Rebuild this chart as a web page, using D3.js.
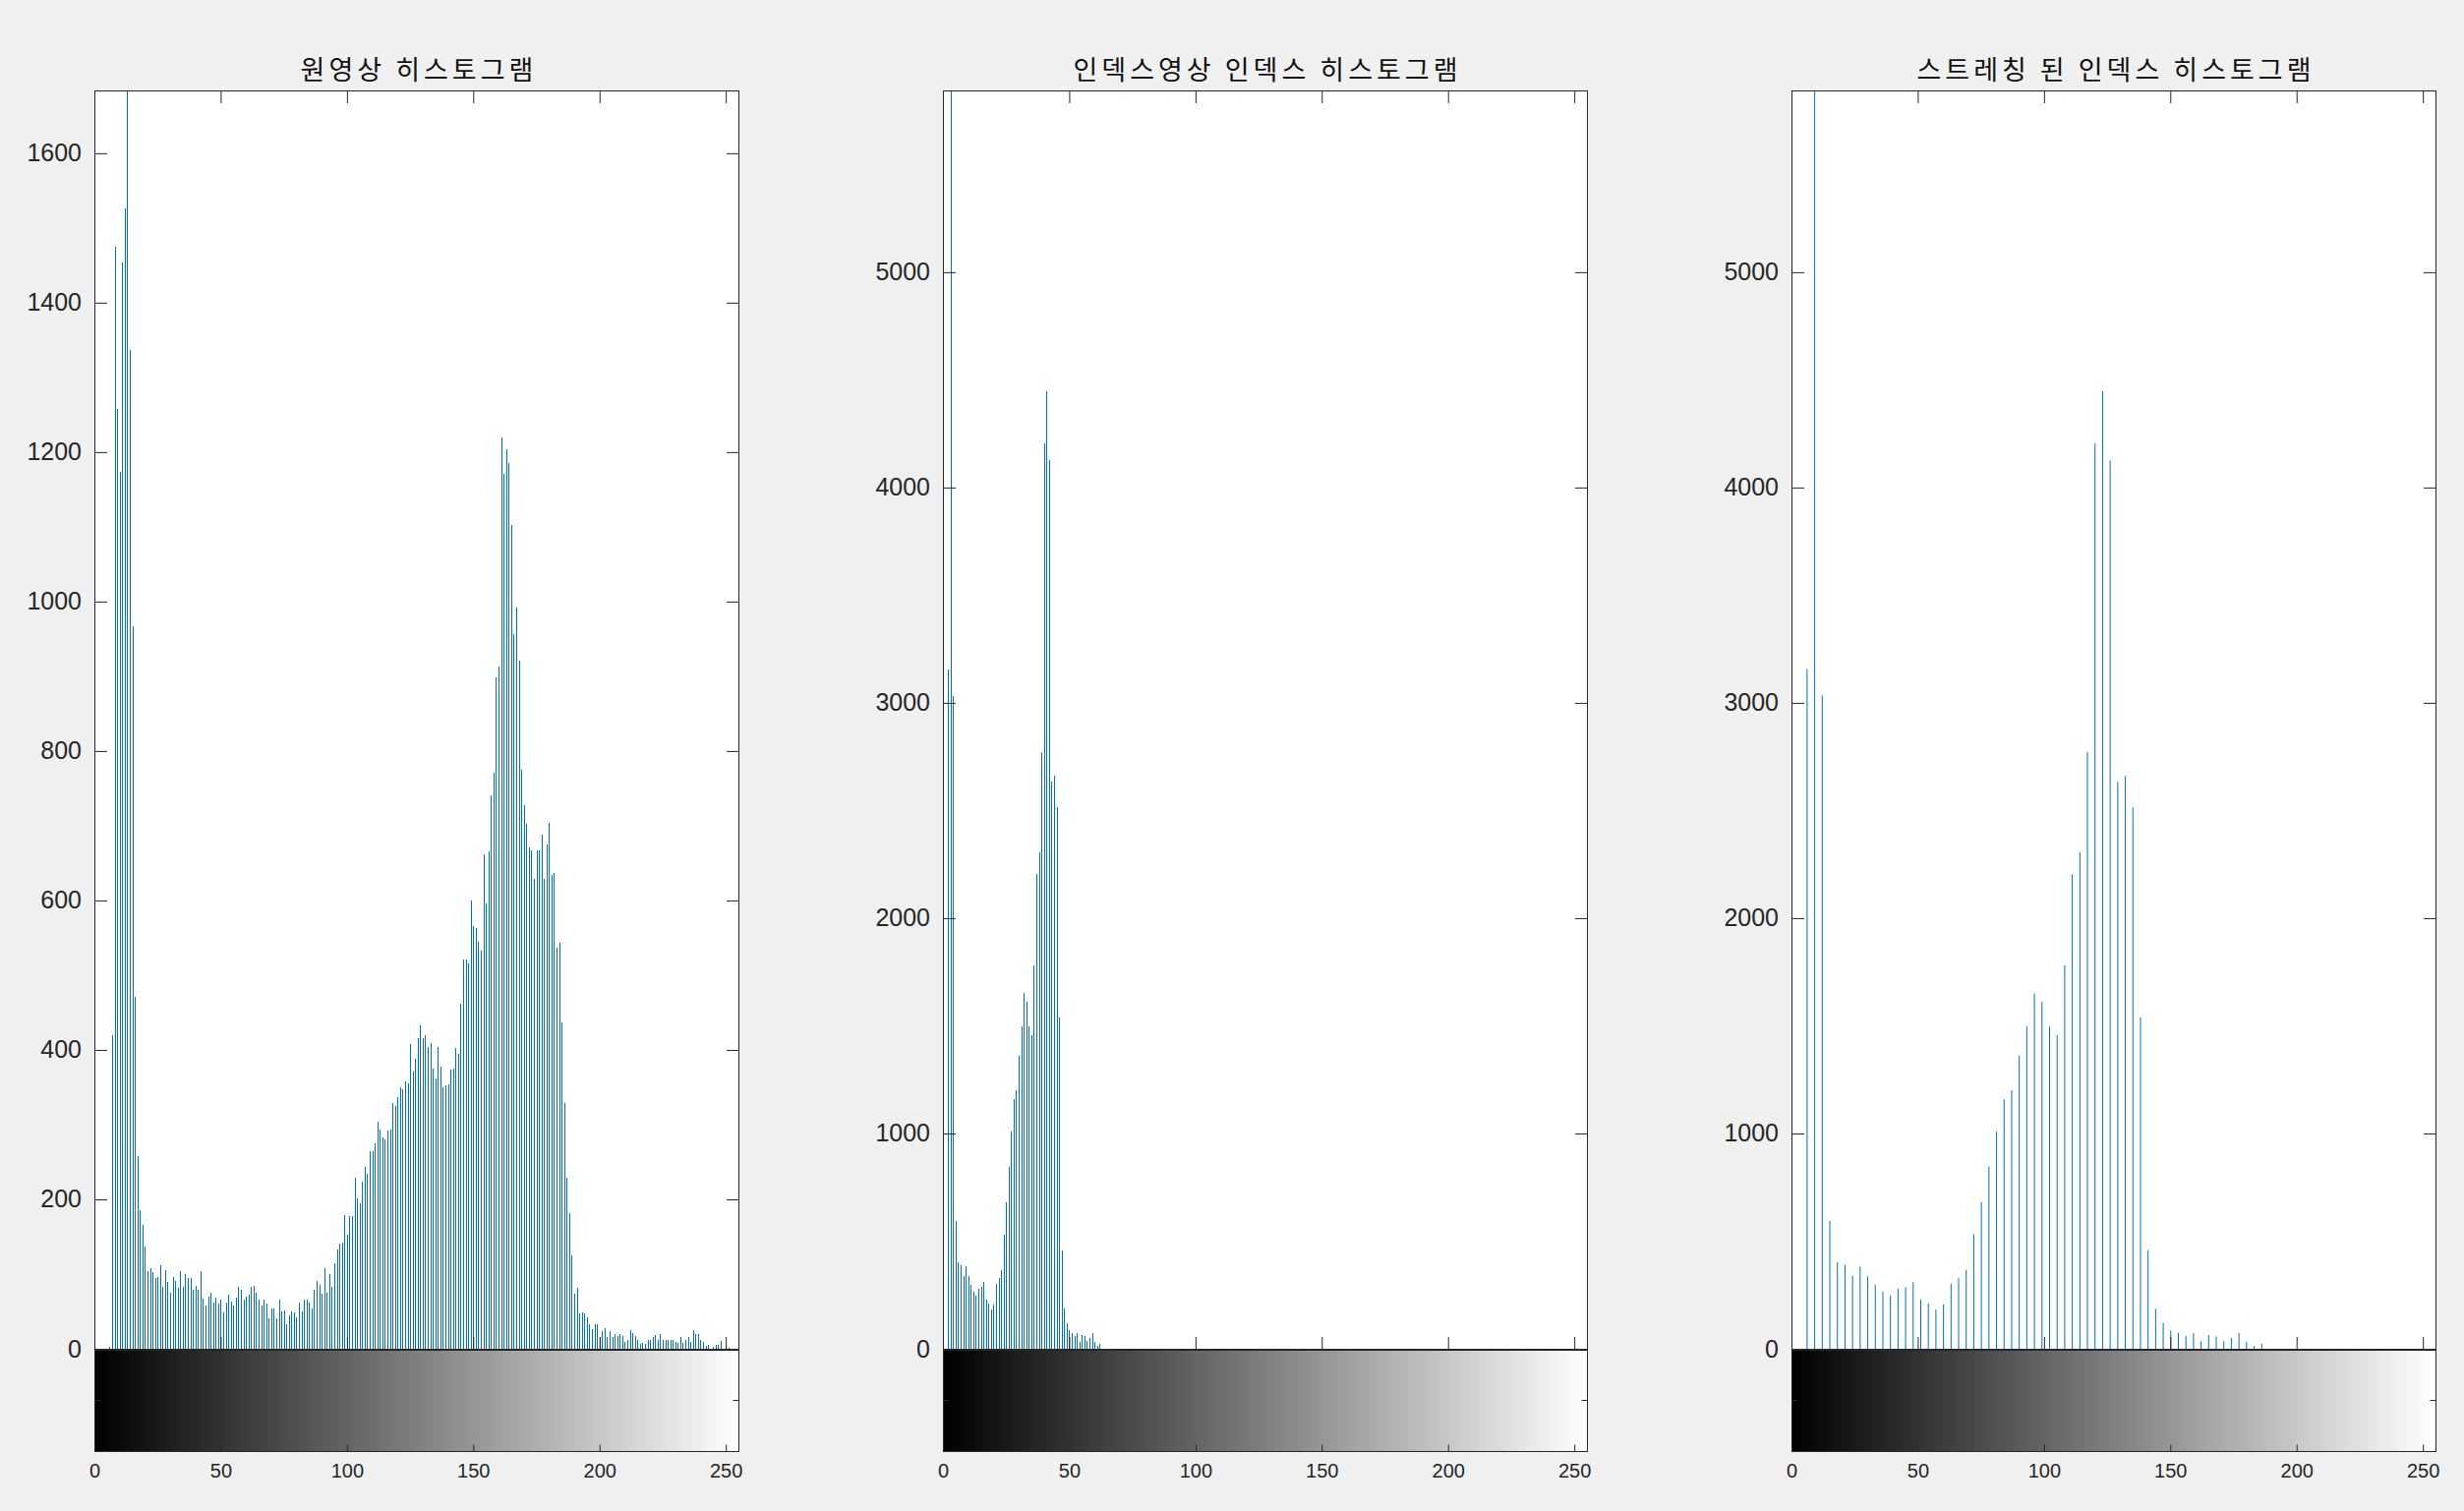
<!DOCTYPE html>
<html>
<head>
<meta charset="utf-8">
<title>Histograms</title>
<script src="https://d3js.org/d3.v7.min.js"></script>
<style>
  body { margin: 0; background: #f0f0f0; }
  .title { font-family: "Noto Sans CJK KR", sans-serif; font-size: 27px; font-weight: 400; letter-spacing: 4px; fill: #111; }
</style>
</head>
<body>
<div id="chart"></div>
<script>
  // histogram of the original image, one count per gray level 0..255
  var origCounts = [
    0,0,0,0,0,0,3,421,1476,1258,1174,1455,1527,1750,1337,967,
    471,259,186,167,138,105,109,103,95,97,112,84,106,90,75,97,
    91,82,104,83,100,96,95,80,85,80,104,68,59,70,75,63,
    69,61,66,49,62,73,64,59,69,83,80,66,71,73,84,85,
    75,66,59,66,61,42,55,54,41,66,50,52,34,45,50,49,
    43,63,50,67,67,62,54,80,91,86,74,108,76,100,84,115,
    133,142,143,179,153,178,178,229,202,195,224,244,235,265,265,275,
    305,294,284,281,293,294,330,325,338,350,348,359,356,409,372,389,
    416,433,416,420,405,410,375,363,404,378,351,353,355,374,375,403,
    395,462,522,522,516,600,567,564,545,534,662,596,667,742,772,899,
    914,1220,1172,1205,1186,1103,957,992,922,776,728,703,672,668,630,668,
    668,689,629,676,704,635,638,537,544,437,329,230,182,125,74,82,
    48,49,48,43,33,27,33,33,17,24,28,17,24,17,21,18,
    20,18,10,12,25,22,18,12,7,8,7,13,13,16,19,12,
    21,12,12,12,13,12,10,8,17,8,12,17,10,25,21,20,
    13,10,4,6,1,3,6,6,11,1,4,2,0,0,0,0
  ];
  var origLevels = origCounts.map(function(d, i) { return i; });

  // index image histogram
  var indexLevels = [2,3,4,5,6,7,8,9,10,11,12,13,14,15,16,17,18,19,20,21,
    22,23,24,25,26,27,28,29,30,31,32,33,34,35,36,37,38,39,40,41,
    42,43,44,45,46,47,48,49,50,51,52,53,54,55,56,57,58,59,60,61,62];
  var indexCounts = [3159,6500,3036,596,404,392,342,384,338,300,267,250,282,288,311,231,213,184,208,304,
    330,369,534,684,849,1011,1161,1203,1364,1499,1653,1614,1499,1459,1783,2206,2308,2775,4208,4450,
    4128,2636,2663,2517,1541,461,188,123,88,77,61,75,36,67,60,38,52,75,35,15,25];

  // same counts after stretching the index range
  var stretchedLevels = [6,9,12,15,18,21,24,27,30,33,36,39,42,45,48,51,54,57,60,63,
    66,69,72,75,78,81,84,87,90,93,96,99,102,105,108,111,114,117,120,123,
    126,129,132,135,138,141,144,147,150,153,156,159,162,165,168,171,174,177,180,183,186];

  var titles = ["원영상 히스토그램", "인덱스영상 인덱스 히스토그램", "스트레칭 된 인덱스 히스토그램"];
  var yMaxes = [1684, 5844, 5844];
  var yTicks = [[0,200,400,600,800,1000,1200,1400,1600], [0,1000,2000,3000,4000,5000], [0,1000,2000,3000,4000,5000]];
  var xTicks = [0, 50, 100, 150, 200, 250];

  var panels = [
    {title: titles[0], levels: origLevels, counts: origCounts, yMax: yMaxes[0], yTicks: yTicks[0], crisp: true},
    {title: titles[1], levels: indexLevels, counts: indexCounts, yMax: yMaxes[1], yTicks: yTicks[1], crisp: true},
    {title: titles[2], levels: stretchedLevels, counts: indexCounts, yMax: yMaxes[2], yTicks: yTicks[2], crisp: false}
  ];

  var margin = {left: 96.5, top: 92.5},
      panelW = 655, panelH = 1280, gapX = 863, barH = 104;
  var axisColor = "#262626";
  var numFont = "'Liberation Sans', Arial, Helvetica, sans-serif";
  var fmt = d3.format("d");

  var svg = d3.select("#chart").append("svg")
      .attr("width", 2506)
      .attr("height", 1537)
      .style("display", "block")
      .style("background", "#f0f0f0");

  var defs = svg.append("defs");
  var grad = defs.append("linearGradient").attr("id", "grayRamp");
  grad.append("stop").attr("offset", "0%").attr("stop-color", "#000");
  grad.append("stop").attr("offset", "100%").attr("stop-color", "#fff");

  panels.forEach(function(p, k) {
    var g = svg.append("g")
        .attr("transform", "translate(" + (margin.left + k * gapX) + "," + margin.top + ")");

    var x = d3.scaleLinear().domain([0, 255]).range([0, panelW]);
    var y = d3.scaleLinear().domain([0, p.yMax]).range([panelH, 0]);

    g.append("rect").attr("width", panelW).attr("height", panelH).attr("fill", "#fff");

    defs.append("clipPath").attr("id", "clip" + k)
      .append("rect").attr("width", panelW).attr("height", panelH);

    // stems
    g.append("g").attr("clip-path", "url(#clip" + k + ")")
      .selectAll("line")
      .data(d3.zip(p.levels, p.counts).filter(function(d) { return d[1] > 0; }))
      .join("line")
        .attr("x1", function(d) { return x(d[0]); })
        .attr("x2", function(d) { return x(d[0]); })
        .attr("y1", y(0))
        .attr("y2", function(d) { return y(d[1]); })
        .attr("stroke", "#0072BD")
        .attr("stroke-width", 1)
        .attr("shape-rendering", p.crisp ? "crispEdges" : "auto");

    // left axis with labels
    g.append("g")
        .call(d3.axisLeft(y).tickValues(p.yTicks).tickFormat(fmt).tickSize(-12.5).tickPadding(13.5).offset(0))
        .call(function(a) { a.select(".domain").remove(); })
        .attr("font-size", 25)
        .attr("font-family", numFont)
        .call(function(a) {
          a.selectAll("line").attr("stroke", axisColor);
          a.selectAll("text").attr("fill", axisColor);
        });

    g.append("g")
        .attr("transform", "translate(" + panelW + ",0)")
        .call(d3.axisRight(y).tickValues(p.yTicks).tickSize(-12.5).tickFormat("").offset(0))
        .call(function(a) { a.select(".domain").remove(); a.selectAll("line").attr("stroke", axisColor); });

    g.append("g")
        .call(d3.axisTop(x).tickValues(xTicks).tickSize(-12.5).tickFormat("").offset(0))
        .call(function(a) { a.select(".domain").remove(); a.selectAll("line").attr("stroke", axisColor); });

    g.append("g")
        .attr("transform", "translate(0," + panelH + ")")
        .call(d3.axisBottom(x).tickValues(xTicks).tickSize(-12.5).tickFormat("").offset(0))
        .call(function(a) { a.select(".domain").remove(); a.selectAll("line").attr("stroke", axisColor); });

    g.append("rect")
        .attr("width", panelW).attr("height", panelH)
        .attr("fill", "none").attr("stroke", axisColor).attr("stroke-width", 1);

    // gray colorbar under the histogram
    var cb = g.append("g").attr("transform", "translate(0," + panelH + ")");
    var cy = d3.scaleLinear().domain([0, 1]).range([barH, 0]);

    cb.append("rect").attr("width", panelW).attr("height", barH).attr("fill", "url(#grayRamp)");

    cb.append("g")
        .attr("transform", "translate(0," + barH + ")")
        .call(d3.axisBottom(x).tickValues(xTicks).tickFormat(fmt).tickSize(-7).tickPadding(12.5).offset(0))
        .call(function(a) { a.select(".domain").remove(); })
        .attr("font-size", 20)
        .attr("font-family", numFont)
        .call(function(a) {
          a.selectAll("line").attr("stroke", axisColor);
          a.selectAll("text").attr("fill", axisColor);
        });

    cb.append("g")
        .call(d3.axisLeft(cy).tickValues([0.5]).tickSize(-6).tickFormat("").offset(0))
        .call(function(a) { a.select(".domain").remove(); a.selectAll("line").attr("stroke", axisColor); });

    cb.append("g")
        .attr("transform", "translate(" + panelW + ",0)")
        .call(d3.axisRight(cy).tickValues([0.5]).tickSize(-6).tickFormat("").offset(0))
        .call(function(a) { a.select(".domain").remove(); a.selectAll("line").attr("stroke", axisColor); });

    cb.append("rect")
        .attr("width", panelW).attr("height", barH)
        .attr("fill", "none").attr("stroke", axisColor).attr("stroke-width", 1);

    cb.append("line")
        .attr("x1", 0).attr("x2", panelW)
        .attr("y1", 0.5).attr("y2", 0.5)
        .attr("stroke", axisColor).attr("stroke-width", 2);

    g.append("text")
        .attr("class", "title")
        .attr("x", panelW / 2 + 2)
        .attr("y", -11.5)
        .attr("text-anchor", "middle")
        .text(p.title);
  });
</script>
</body>
</html>
